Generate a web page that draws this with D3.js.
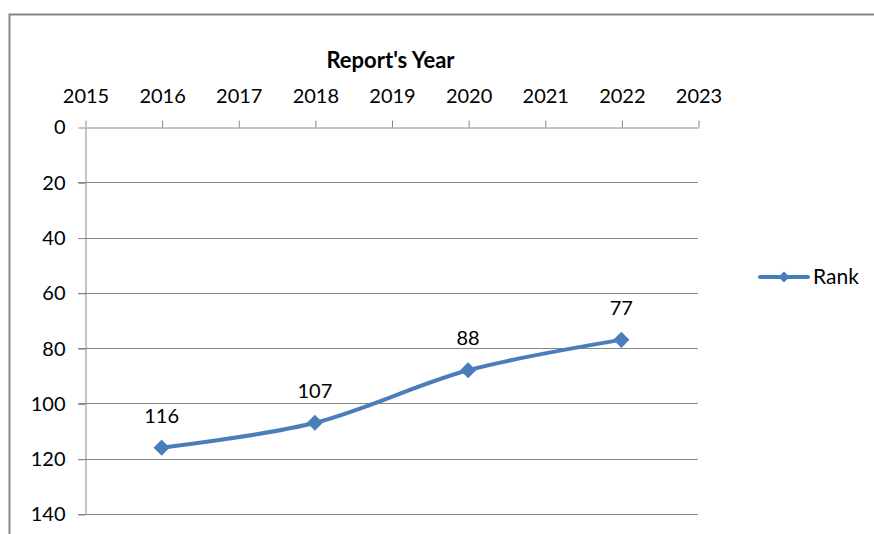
<!DOCTYPE html>
<html>
<head>
<meta charset="utf-8">
<script src="https://cdn.jsdelivr.net/npm/d3@7"></script>
<style>
  body { margin: 0; background: #fff; }
  svg text { font-family: Lato, "Open Sans", sans-serif; fill: #000; }
</style>
</head>
<body>
<div id="chart"></div>
<script>
// data
const years = [2016, 2018, 2020, 2022];
const rank = [116, 107, 88, 77];
const xTicks = [2015, 2016, 2017, 2018, 2019, 2020, 2021, 2022, 2023];
const yTicks = [0, 20, 40, 60, 80, 100, 120, 140];
const seriesName = "Rank";
const axisTitle = "Report's Year";

const W = 874, H = 534;
const plot = { left: 85, top: 127, right: 698, bottom: 514 };
const blue = "#4a7ebb";
const grey = "#888";

const svg = d3.select("#chart").append("svg")
  .attr("width", W).attr("height", H);

// chart border
svg.append("path")
  .attr("d", `M9.5,${H}V14.5H${W}`)
  .attr("fill", "none").attr("stroke", "#868686").attr("stroke-width", 2);

const x = d3.scaleLinear().domain([2015, 2023]).range([plot.left, plot.right]);
const y = d3.scaleLinear().domain([0, 140]).range([plot.top, plot.bottom]);

// gridlines (with small tick stubs on the left)
svg.append("g")
  .selectAll("line")
  .data(yTicks.slice(1))
  .enter().append("line")
  .attr("x1", plot.left - 7).attr("x2", plot.right)
  .attr("y1", d => Math.round(y(d)) + 0.5).attr("y2", d => Math.round(y(d)) + 0.5)
  .attr("stroke", grey).attr("stroke-width", 1);

// top x axis
const xAxis = d3.axisTop(x).tickValues(xTicks).tickFormat(d3.format("d"))
  .tickSize(7).tickPadding(18).tickSizeOuter(0);
const xg = svg.append("g")
  .attr("transform", `translate(0.5,${Math.round(plot.top) + 0.5})`)
  .call(xAxis);
xg.select(".domain").attr("stroke", grey);
xg.selectAll(".tick line").attr("stroke", grey);
xg.selectAll("text").attr("font-size", 20).attr("font-family", "Lato");

// left y axis
const yAxis = d3.axisLeft(y).tickValues(yTicks).tickSize(7).tickPadding(13).tickSizeOuter(0);
const yg = svg.append("g")
  .attr("transform", `translate(${plot.left + 0.5},0.5)`)
  .call(yAxis);
yg.select(".domain").attr("stroke", grey);
yg.selectAll(".tick line").attr("stroke", grey);
yg.selectAll("text").attr("font-size", 20).attr("font-family", "Lato");

// axis title
svg.append("text")
  .attr("x", (plot.left + plot.right) / 2 - 1)
  .attr("y", 68)
  .attr("text-anchor", "middle")
  .attr("font-size", 22)
  .attr("font-weight", "bold")
  .text(axisTitle);

// line
const pts = years.map((d, i) => [x(d), y(rank[i])]);
svg.append("path")
  .datum(pts)
  .attr("d", d3.line().curve(d3.curveCardinal.tension(0)))
  .attr("fill", "none")
  .attr("stroke", blue)
  .attr("stroke-width", 4)
  .attr("stroke-linecap", "round");

// markers
const diamond = d3.symbol().type(d3.symbolDiamond2).size(165);
svg.append("g")
  .selectAll("path")
  .data(pts)
  .enter().append("path")
  .attr("transform", d => `translate(${d[0]},${d[1]})`)
  .attr("d", diamond)
  .attr("fill", blue);

// data labels
svg.append("g")
  .selectAll("text")
  .data(years)
  .enter().append("text")
  .attr("x", d => x(d))
  .attr("y", (d, i) => y(rank[i]) - 25)
  .attr("text-anchor", "middle")
  .attr("font-size", 20)
  .text((d, i) => rank[i]);

// legend
const lg = svg.append("g").attr("transform", "translate(760,277)");
lg.append("line").attr("x1", 0).attr("x2", 48)
  .attr("stroke", blue).attr("stroke-width", 4).attr("stroke-linecap", "round");
lg.append("path")
  .attr("transform", "translate(24,0)")
  .attr("d", d3.symbol().type(d3.symbolDiamond2).size(80))
  .attr("fill", blue);
lg.append("text").attr("x", 53).attr("y", 7)
  .attr("font-size", 21).text(seriesName);
</script>
</body>
</html>
